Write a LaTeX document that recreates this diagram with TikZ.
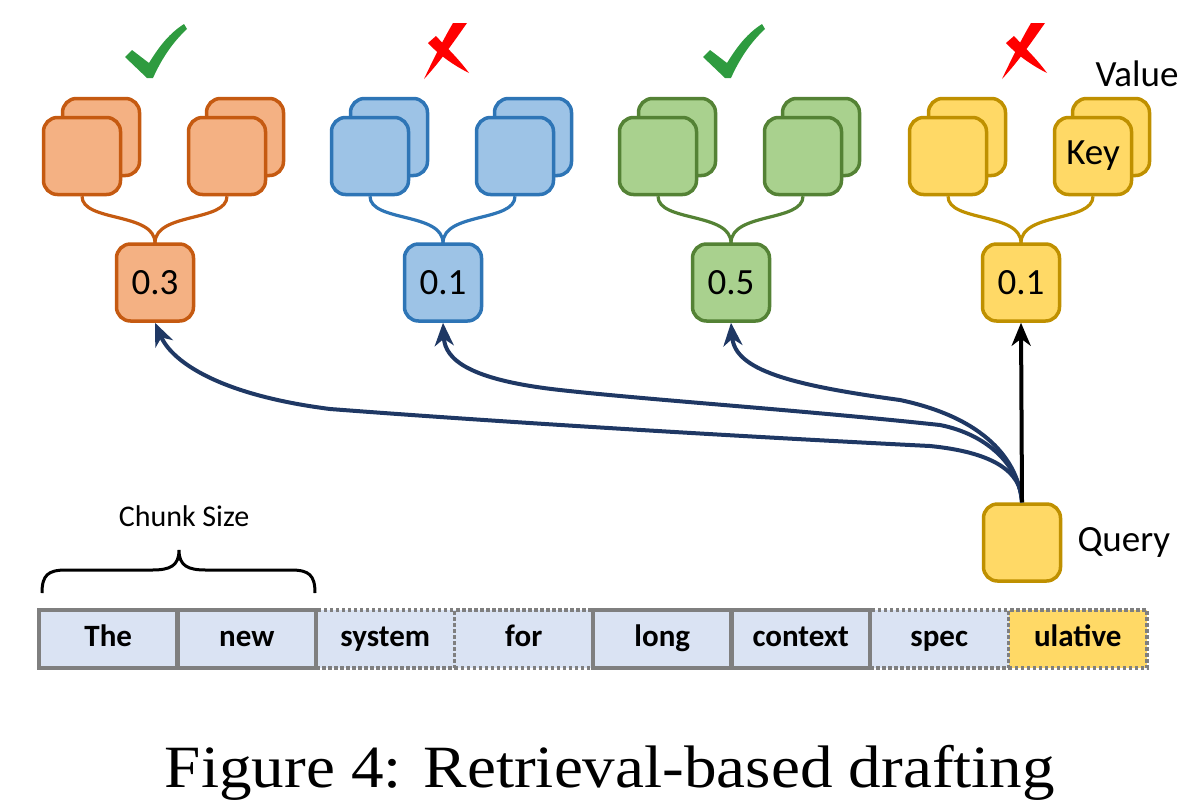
\documentclass[tikz,border=0pt]{standalone}
\usepackage{fontspec}
\usepackage{graphicx}
\usetikzlibrary{arrows.meta}
\newfontfamily\carl{Carlito}
\newfontfamily\capfont{Liberation Serif}
\definecolor{orF}{HTML}{F4B183}\definecolor{orD}{HTML}{C55A11}
\definecolor{blF}{HTML}{9DC3E6}\definecolor{blD}{HTML}{2E75B6}
\definecolor{grF}{HTML}{A9D18E}\definecolor{grD}{HTML}{548235}
\definecolor{yeF}{HTML}{FFD966}\definecolor{yeD}{HTML}{BF9000}
\definecolor{tokF}{HTML}{DAE3F3}\definecolor{tokD}{HTML}{7F7F7F}
\definecolor{navy}{HTML}{1F3864}
\definecolor{chk}{HTML}{2E9B3F}
\begin{document}
\begin{tikzpicture}[x=1pt,y=-1pt,
  sq/.style={draw, line width=3.5pt, rounded corners=14pt, minimum width=77pt, minimum height=77pt, inner sep=0pt, font=\carl\fontsize{37}{40}\selectfont},
  link/.style={line width=3.2pt},
  tok/.style={minimum width=138.5pt, minimum height=58pt, inner sep=0pt, text height=20pt, text depth=6pt, font=\carl\bfseries\fontsize{31}{34}\selectfont},
  soltok/.style={tok, draw=tokD, line width=4.5pt},
  dottok/.style={tok, draw=tokD, line width=3.5pt, dash pattern=on 3.5pt off 2.5pt},
  qarrow/.style={navy, line width=4pt, -{Stealth[length=23pt,width=19pt,inset=7pt]}},
  lbl/.style={font=\carl\fontsize{37}{40}\selectfont}]
\useasboundingbox (0,0) rectangle (1204,804);

% groups
\foreach \cx/\fc/\dc/\n/\sc in {155/orF/orD/1/0.3, 443/blF/blD/2/0.1, 731/grF/grD/3/0.5, 1021/yeF/yeD/4/0.1}{
  \node[sq, fill=\fc, draw=\dc] (bl\n) at (\cx-54,137) {};
  \node[sq, fill=\fc, draw=\dc] (br\n) at (\cx+90,137) {};
  \node[sq, fill=\fc, draw=\dc] (fl\n) at (\cx-73,156) {};
  \node[sq, fill=\fc, draw=\dc] (fr\n) at (\cx+72,156) {};
  \coordinate (j\n) at (\cx,243);
  \draw[link, \dc] (fl\n.south) .. controls ([yshift=-26pt]fl\n.south) and ([yshift=31pt]j\n) .. (j\n);
  \draw[link, \dc] (fr\n.south) .. controls ([yshift=-26pt]fr\n.south) and ([yshift=31pt]j\n) .. (j\n);
  \node[sq, fill=\fc, draw=\dc] (s\n) at (\cx,282.5) {\sc};
}
\node[lbl] at (fr4.center) {Key};
\node[lbl] (val) at (1137,74) {Value};

% check marks
\foreach \dx in {0,578}{
  \fill[chk, shift={(\dx,0)}] (125,57) -- (132,50) -- (149,63) .. controls (160,45) and (170,33) .. (184,24) -- (187,29) .. controls (173,42) and (162,58) .. (153,78) -- (147,78) -- cycle;
}
% crosses
\foreach \dx in {0,578}{
  \begin{scope}[shift={(\dx,0)}]
  \fill[red] (453,23) -- (467,23) .. controls (455,40) and (440,62) .. (424,79) .. controls (432,62) and (443,40) .. cycle;
  \fill[red] (428,43) -- (436,36) .. controls (447,48) and (458,58) .. (469,73) .. controls (455,66) and (440,56) .. cycle;
  \end{scope}
}

% query
\node[sq, fill=yeF, draw=yeD] (q) at (1022,542.5) {};
\node[lbl, anchor=west] (qlbl) at (1074,542) {Query};

% arrows
\draw[qarrow] (q.north) .. controls (1022,470) and (990,452) .. (930,446)
   .. controls (730,436) and (500,422) .. (330,409)
   .. controls (220,395) and (172,362) .. (s1.south);
\draw[qarrow] (q.north) .. controls (1020,468) and (990,435) .. (940,425)
   .. controls (800,410) and (650,400) .. (560,390)
   .. controls (470,380) and (445,360) .. (s2.south);
\draw[qarrow] (q.north) .. controls (1018,460) and (985,418) .. (900,400)
   .. controls (790,385) and (735,370) .. (s3.south);
\draw[line width=4pt, black, -{Stealth[length=23pt,width=19pt,inset=7pt]}] (q.north) -- (s4.south);

% brace
\draw[line width=3pt] (42,593) .. controls (42,575) and (48,570) .. (66,570) -- (152,570) .. controls (170,570) and (179,566) .. (179,550) .. controls (179,566) and (188,570) .. (206,570) -- (291,570) .. controls (309,570) and (315,575) .. (315,593);
\node[font=\carl\fontsize{30}{32}\selectfont] (cs) at (184,516) {Chunk Size};

% tokens
\node[dottok, fill=tokF] (t3) at (385.25,639) {system};
\node[dottok, fill=tokF] (t4) at (523.75,639) {for};
\node[dottok, fill=tokF] (t7) at (939.25,639) {spec};
\node[dottok, fill=yeF] (t8) at (1077.75,639) {ulative};
\node[soltok, fill=tokF] (t1) at (108.25,639) {The};
\node[soltok, fill=tokF] (t2) at (246.75,639) {new};
\node[soltok, fill=tokF] (t5) at (662.25,639) {long};
\node[soltok, fill=tokF] (t6) at (800.75,639) {context};

% caption
\node[anchor=base] (cap) at (610,787) {\resizebox{890pt}{\height}{\capfont\fontsize{60}{60}\selectfont Figure 4: Retrieval-based drafting}};
\end{tikzpicture}
\end{document}
